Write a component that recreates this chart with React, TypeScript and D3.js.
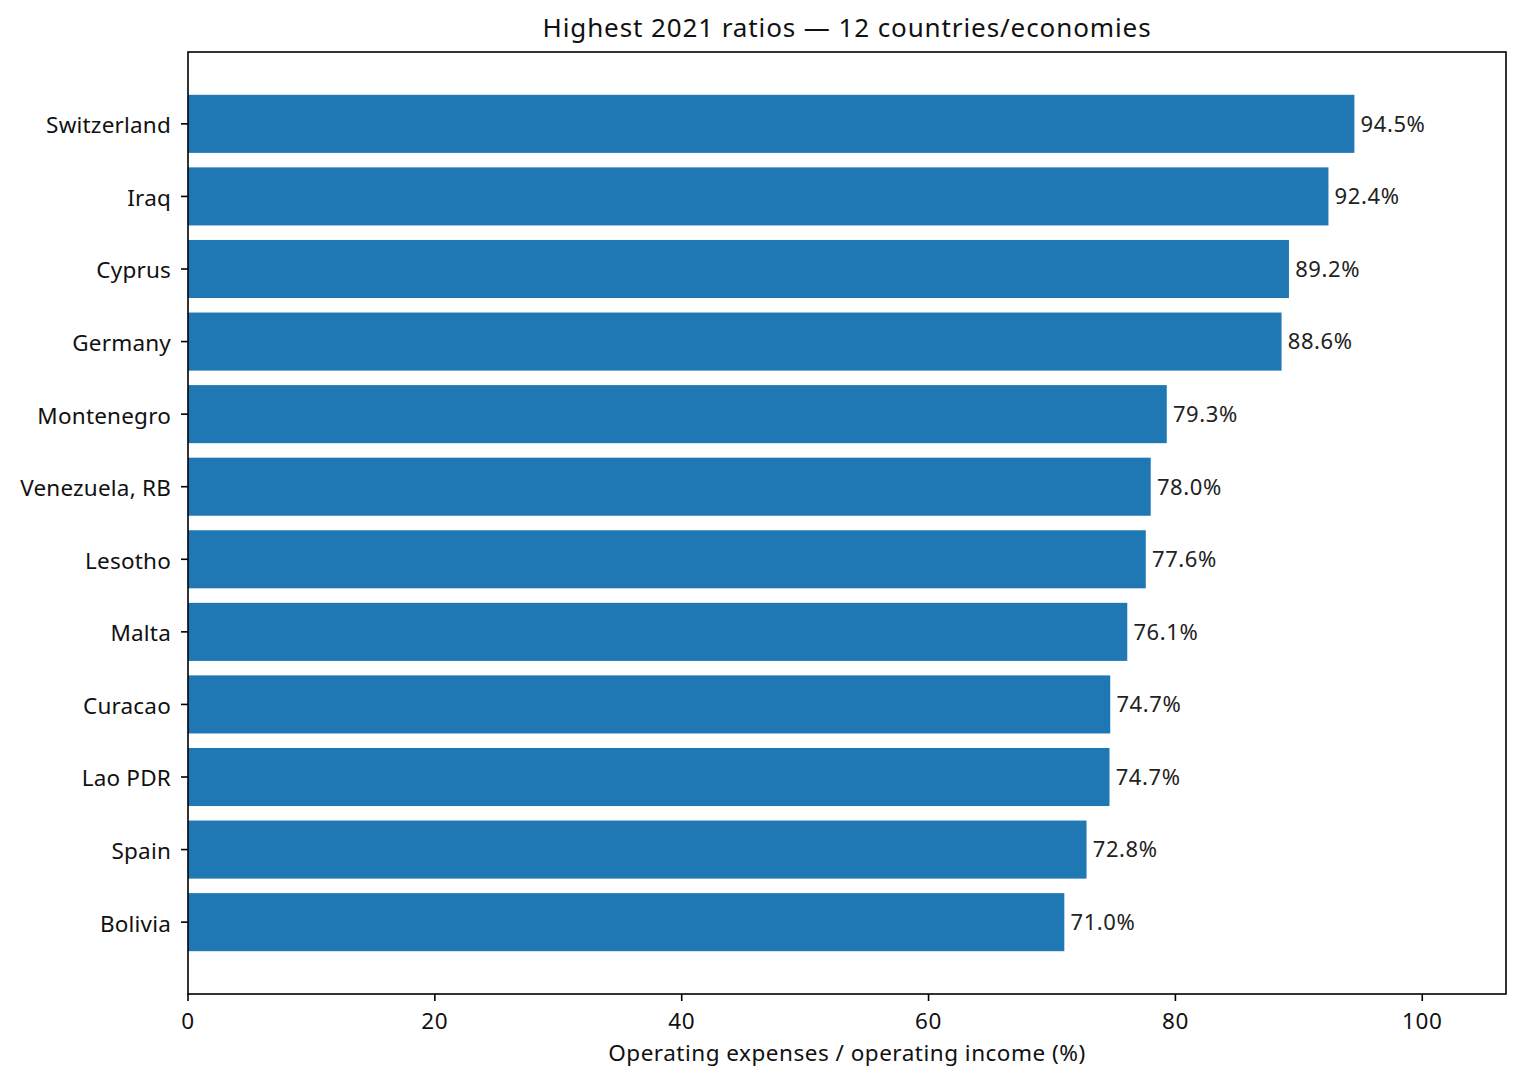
import React, { useRef, useEffect } from "react";
import * as d3 from "d3";

// top to bottom, as in the chart
const countries = [
  "Switzerland",
  "Iraq",
  "Cyprus",
  "Germany",
  "Montenegro",
  "Venezuela, RB",
  "Lesotho",
  "Malta",
  "Curacao",
  "Lao PDR",
  "Spain",
  "Bolivia"
];
const ratios = [94.5, 92.4, 89.2, 88.6, 79.3, 78.0, 77.6, 76.1, 74.72, 74.66, 72.8, 71.0];
const xTicks = [0, 20, 40, 60, 80, 100];

const title = "Highest 2021 ratios \u2014 12 countries/economies";
const xLabel = "Operating expenses / operating income (%)";

const FONT = "'Noto Sans', 'Open Sans', sans-serif";

const App = () => {
  const node: any = useRef();

  useEffect(() => {
    const width = 1522,
      height = 1083;
    const margin = { top: 52, right: 16, bottom: 89, left: 188 };
    const innerW = width - margin.left - margin.right;
    const innerH = height - margin.top - margin.bottom;

    const svg = d3.select(node.current).attr("width", width).attr("height", height);
    svg.selectAll("*").remove();

    const g = svg.append("g").attr("transform", `translate(${margin.left},${margin.top})`);

    const x = d3
      .scaleLinear()
      .domain([0, (d3.max(ratios) as number) * 1.13])
      .range([0, innerW]);

    // matplotlib style: bars of height 0.8 at integer positions, 5% margins
    const n = countries.length;
    const lo = -0.4 - 0.05 * (n - 1 + 0.8),
      hi = n - 1 + 0.4 + 0.05 * (n - 1 + 0.8);
    const y = d3.scaleLinear().domain([lo, hi]).range([0, innerH]);

    g.selectAll("rect")
      .data(ratios)
      .enter()
      .append("rect")
      .attr("x", x(0))
      .attr("y", (_, i) => y(i - 0.4))
      .attr("width", d => x(d) - x(0))
      .attr("height", y(0.8) - y(0))
      .attr("fill", "#1f77b4");

    // value labels
    g.selectAll("text.val")
      .data(ratios)
      .enter()
      .append("text")
      .attr("class", "val")
      .attr("x", d => x(d + 0.5))
      .attr("y", (_, i) => y(i))
      .attr("dy", "0.36em")
      .attr("font-family", FONT)
      .attr("font-size", "22px")
      .attr("letter-spacing", "0.6px")
      .attr("fill", "#222")
      .text(d => `${d.toFixed(1)}%`);

    // frame
    g.append("rect")
      .attr("width", innerW)
      .attr("height", innerH)
      .attr("fill", "none")
      .attr("stroke", "#000")
      .attr("stroke-width", 1.6);

    // y ticks
    const yt = g.append("g");
    countries.forEach((c, i) => {
      yt.append("line")
        .attr("x1", -7)
        .attr("x2", 0)
        .attr("y1", y(i))
        .attr("y2", y(i))
        .attr("stroke", "#000")
        .attr("stroke-width", 1.6);
      yt.append("text")
        .attr("x", -17)
        .attr("y", y(i))
        .attr("dy", "0.42em")
        .attr("text-anchor", "end")
        .attr("font-family", FONT)
        .attr("font-size", "22.5px")
        .attr("letter-spacing", "0.2px")
        .attr("fill", "#111")
        .text(c);
    });

    // x ticks
    const xt = g.append("g").attr("transform", `translate(0,${innerH})`);
    xTicks.forEach(t => {
      xt.append("line")
        .attr("x1", x(t))
        .attr("x2", x(t))
        .attr("y1", 0)
        .attr("y2", 7)
        .attr("stroke", "#000")
        .attr("stroke-width", 1.6);
      xt.append("text")
        .attr("x", x(t))
        .attr("y", 35)
        .attr("text-anchor", "middle")
        .attr("font-family", FONT)
        .attr("font-size", "22.5px")
        .attr("letter-spacing", "0.6px")
        .attr("fill", "#111")
        .text(t);
    });

    g.append("text")
      .attr("x", innerW / 2)
      .attr("y", innerH + 67)
      .attr("text-anchor", "middle")
      .attr("font-family", FONT)
      .attr("font-size", "22.5px")
      .attr("letter-spacing", "0.5px")
      .attr("fill", "#111")
      .text(xLabel);

    svg
      .append("text")
      .attr("x", margin.left + innerW / 2)
      .attr("y", 37)
      .attr("text-anchor", "middle")
      .attr("font-family", FONT)
      .attr("font-size", "26px")
      .attr("letter-spacing", "0.9px")
      .attr("fill", "#111")
      .text(title);
  }, []);

  return (
    <div style={{ position: "absolute", left: 0, top: 0 }}>
      <svg ref={node}></svg>
    </div>
  );
};

export default App;
